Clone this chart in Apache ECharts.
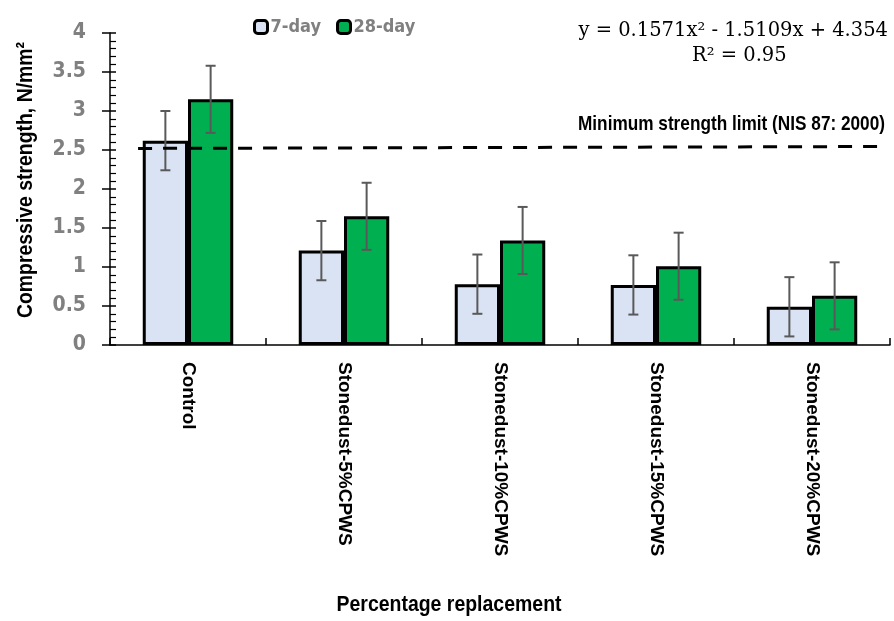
<!DOCTYPE html>
<html><head><meta charset="utf-8">
<script src="https://cdn.jsdelivr.net/npm/echarts@6/dist/echarts.min.js"></script>
<style>html,body{margin:0;padding:0;background:#fff}#c{width:894px;height:621px}</style>
</head><body><div id="c"></div>
<script>
const categories = ['Control','Stonedust-5%CPWS','Stonedust-10%CPWS','Stonedust-15%CPWS','Stonedust-20%CPWS'];
const day7 = [2.62, 1.21, 0.78, 0.77, 0.49];
const day28 = [3.15, 1.65, 1.34, 1.01, 0.63];
const err7 = [0.38, 0.38, 0.38, 0.38, 0.38];
const err28 = [0.43, 0.43, 0.43, 0.43, 0.43];
const limitLine = [[0.18, 2.52], [4.98, 2.545]];
const yTicks = [0, 0.5, 1, 1.5, 2, 2.5, 3, 3.5, 4];

const sansB = '"Liberation Sans","Arial",sans-serif';
const cond = '"DejaVu Sans Condensed","Liberation Sans Narrow","Liberation Sans",sans-serif';
const gap = 0.42;
const G = { left: 110, right: 4, top: 33, bottom: 276 };

const mctx = document.createElement('canvas').getContext('2d');
function fitScale(text, font, target) {
  mctx.font = font;
  return target / mctx.measureText(text).width;
}

function errSeries(name, vals, errs, side) {
  return {
    type: 'custom', name: name + '-err', xAxisIndex: 0, yAxisIndex: 0, z: 5,
    data: vals.map((v, i) => [i, v - errs[i], v + errs[i]]),
    renderItem: function (params, api) {
      const band = api.size([1, 0])[0];
      const bw = band * (1 - gap) / 2;
      const lo = api.coord([api.value(0), api.value(1)]);
      const hi = api.coord([api.value(0), api.value(2)]);
      const x = lo[0] + side * bw / 2;
      const cap = 5;
      const st = { stroke: '#595959', lineWidth: 2 };
      return { type: 'group', children: [
        { type: 'line', shape: { x1: x, y1: lo[1], x2: x, y2: hi[1] }, style: st },
        { type: 'line', shape: { x1: x - cap, y1: lo[1], x2: x + cap, y2: lo[1] }, style: st },
        { type: 'line', shape: { x1: x - cap, y1: hi[1], x2: x + cap, y2: hi[1] }, style: st }
      ]};
    }
  };
}

const yTitle = 'Compressive strength, N/mm²';
const xTitle = 'Percentage replacement';
const limTitle = 'Minimum strength limit (NIS 87: 2000)';
const fY = 'bold 22px ' + sansB, fX = 'bold 22px ' + sansB, fL = 'bold 21px ' + sansB;

const chart = echarts.init(document.getElementById('c'), null, { renderer: 'canvas' });
chart.setOption({
  backgroundColor: '#fff',
  animation: false,
  grid: [
    { left: G.left, right: G.right, top: G.top, bottom: G.bottom, containLabel: false, outerBoundsMode: 'none' },
    { left: G.left, right: G.right, top: G.top, bottom: G.bottom, containLabel: false, outerBoundsMode: 'none' }
  ],
  legend: {
    data: ['7-day', '28-day'], left: 248, top: 13, itemWidth: 13, itemHeight: 13, itemGap: 15,
    icon: 'roundRect',
    itemStyle: { borderColor: '#000', borderWidth: 3 },
    textStyle: { color: '#808080', fontFamily: cond, fontWeight: 'bold', fontSize: 18, padding: [0, 0, 0, -2] }
  },
  xAxis: [
    { type: 'category', data: categories, position: 'bottom', gridIndex: 0,
      axisLine: { onZero: false, lineStyle: { color: '#000', width: 1.5 } },
      axisTick: { alignWithLabel: true, length: 7, lineStyle: { color: '#000', width: 1.5 } },
      axisLabel: { rotate: -90, margin: 17, color: '#000', fontWeight: 'bold', fontSize: 19,
        fontFamily: sansB }
    },
    { type: 'value', min: 0, max: 5, show: false, gridIndex: 0 },
    { type: 'category', data: categories, position: 'bottom', gridIndex: 1,
      axisLine: { show: false, onZero: false },
      axisTick: { show: true, inside: true, length: 7, lineStyle: { color: '#000', width: 1.5 } },
      axisLabel: { show: false } }
  ],
  yAxis: [
    { type: 'value', min: 0, max: 4, interval: 0.5, position: 'left', gridIndex: 0,
      axisLine: { show: true, onZero: false, lineStyle: { color: '#000', width: 1.5 } },
      axisTick: { show: true, length: 8, lineStyle: { color: '#000', width: 1.5 } },
      splitLine: { show: false },
      axisLabel: { color: '#808080', fontWeight: 'bold', fontSize: 21, fontFamily: cond, margin: 24,
        formatter: v => yTicks.indexOf(v) >= 0 ? String(v) : '' }
    },
    { type: 'value', min: 0, max: 4, interval: 0.5, position: 'left', gridIndex: 1,
      axisLine: { show: false, onZero: false },
      axisTick: { show: true, inside: true, length: 6, lineStyle: { color: '#000', width: 1.5 } },
      minorTick: { show: true, splitNumber: 5, length: 6, lineStyle: { color: '#000', width: 1.2 } },
      splitLine: { show: false }, axisLabel: { show: false } }
  ],
  series: [
    { name: '7-day', type: 'bar', data: day7, barGap: '0%', barCategoryGap: (gap * 100) + '%',
      itemStyle: { color: '#DAE3F3', borderColor: '#000', borderWidth: 3 } },
    { name: '28-day', type: 'bar', data: day28,
      itemStyle: { color: '#00B050', borderColor: '#000', borderWidth: 3 } },
    errSeries('7-day', day7, err7, -1),
    errSeries('28-day', day28, err28, 1),
    { name: 'limit', type: 'line', xAxisIndex: 1, yAxisIndex: 0, data: limitLine, symbol: 'none', z: 6,
      lineStyle: { color: '#000', width: 3, type: [14, 11] } }
  ],
  graphic: [
    { type: 'text', right: 6, top: 21, style: { text: 'y = 0.1571x² - 1.5109x + 4.354',
      font: '19.5px "DejaVu Serif","Liberation Serif",serif', fill: '#000' } },
    { type: 'text', left: 692, top: 46, style: { text: 'R² = 0.95',
      font: '19.5px "DejaVu Serif","Liberation Serif",serif', fill: '#000' } },
    { type: 'text', x: 885, y: 124, scaleX: fitScale(limTitle, fL, 307),
      style: { text: limTitle, font: fL, fill: '#000', align: 'right', verticalAlign: 'middle' } },
    { type: 'text', x: 449, y: 605, scaleX: fitScale(xTitle, fX, 225),
      style: { text: xTitle, font: fX, fill: '#000', align: 'center', verticalAlign: 'middle' } },
    { type: 'text', x: 26, y: 180, rotation: Math.PI / 2, scaleX: fitScale(yTitle, fY, 276),
      style: { text: yTitle, font: fY, fill: '#000', align: 'center', verticalAlign: 'middle' } }
  ]
});
</script></body></html>
